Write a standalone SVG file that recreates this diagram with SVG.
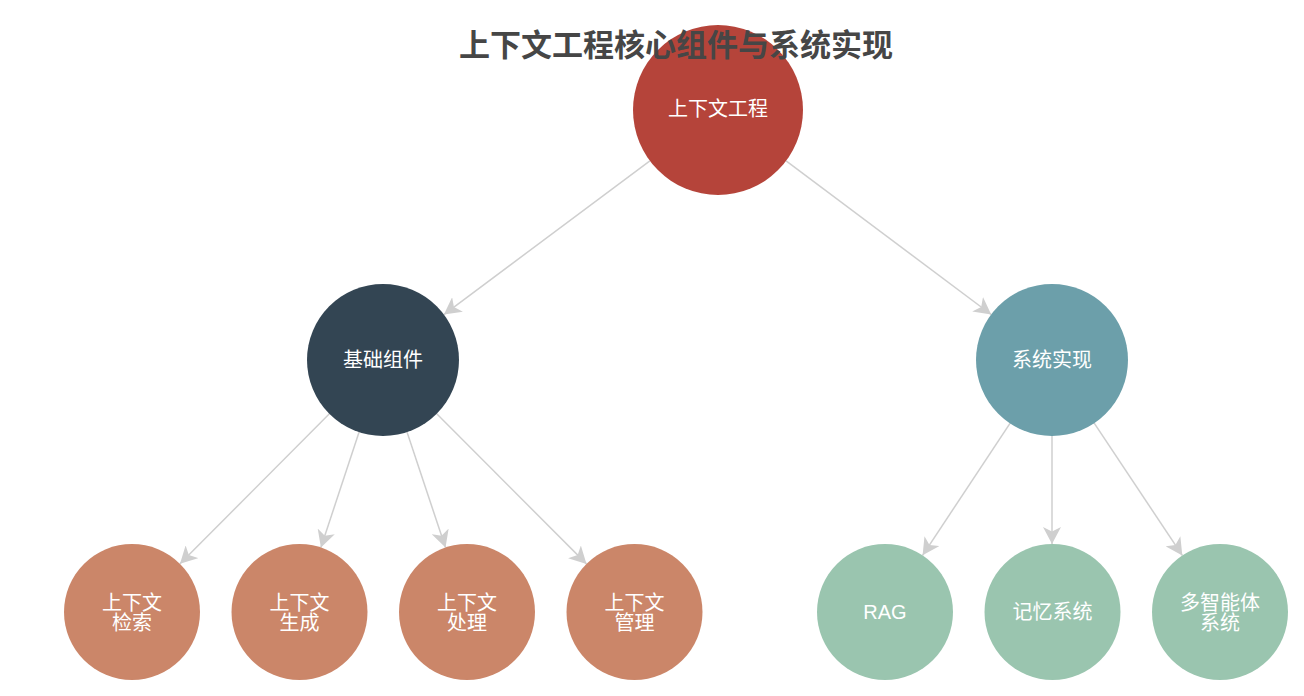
<svg xmlns="http://www.w3.org/2000/svg" width="1304" height="696" viewBox="0 0 1304 696">
<defs>
<style>
.edge{stroke:#cfcfcf;stroke-width:1.5;fill:none;marker-end:url(#arr)}
.lbl{font-family:"Liberation Sans","Noto Sans CJK SC",sans-serif;font-size:20px;fill:#ffffff;text-anchor:middle}
.title{font-family:"Noto Sans CJK SC","Liberation Sans",sans-serif;font-size:31px;font-weight:bold;fill:#464646;text-anchor:middle}
.root{fill:#b5443a}
.base{fill:#334553}
.sys{fill:#6c9faa}
.comp{fill:#cb8669}
.impl{fill:#9ac5af}
</style>
<marker id="arr" viewBox="0 -9 17 18" refX="17" refY="0" markerWidth="17" markerHeight="18" markerUnits="userSpaceOnUse" orient="auto">
<path d="M0,-9 L17,0 L0,9 L4.5,0 Z" fill="#cfcfcf"/>
</marker>
</defs>
<rect width="1304" height="696" fill="#ffffff"/>
<g id="connectors">
<line class="edge" x1="649.9" y1="160.8" x2="443.9" y2="314.6"/>
<line class="edge" x1="786.1" y1="160.9" x2="991.2" y2="314.5"/>
<line class="edge" x1="329.4" y1="413.8" x2="180.0" y2="563.8"/>
<line class="edge" x1="359.1" y1="432.1" x2="320.9" y2="547.5"/>
<line class="edge" x1="407.0" y1="432.1" x2="445.5" y2="547.5"/>
<line class="edge" x1="436.7" y1="413.8" x2="586.5" y2="563.9"/>
<line class="edge" x1="1010.0" y1="423.4" x2="922.6" y2="555.3"/>
<line class="edge" x1="1052" y1="436" x2="1052" y2="544"/>
<line class="edge" x1="1094.2" y1="423.2" x2="1182.3" y2="555.4"/>
</g>
<g id="node-root"><circle class="root" cx="718" cy="110" r="85"/><text class="lbl" x="718" y="116">上下文工程</text></g>
<g id="node-base"><circle class="base" cx="383" cy="360" r="76"/><text class="lbl" x="383" y="367">基础组件</text></g>
<g id="node-sys"><circle class="sys" cx="1052" cy="360" r="76"/><text class="lbl" x="1052" y="367">系统实现</text></g>
<g id="node-retrieval"><circle class="comp" cx="132" cy="612" r="68"/><text class="lbl" x="132" y="610">上下文</text><text class="lbl" x="132" y="630">检索</text></g>
<g id="node-generation"><circle class="comp" cx="299.5" cy="612" r="68"/><text class="lbl" x="299.5" y="610">上下文</text><text class="lbl" x="299.5" y="630">生成</text></g>
<g id="node-processing"><circle class="comp" cx="467" cy="612" r="68"/><text class="lbl" x="467" y="610">上下文</text><text class="lbl" x="467" y="630">处理</text></g>
<g id="node-management"><circle class="comp" cx="634.5" cy="612" r="68"/><text class="lbl" x="634.5" y="610">上下文</text><text class="lbl" x="634.5" y="630">管理</text></g>
<g id="node-rag"><circle class="impl" cx="885" cy="612" r="68"/><text class="lbl" x="885" y="619">RAG</text></g>
<g id="node-memory"><circle class="impl" cx="1052.5" cy="612" r="68"/><text class="lbl" x="1052.5" y="619">记忆系统</text></g>
<g id="node-multiagent"><circle class="impl" cx="1220" cy="612" r="68"/><text class="lbl" x="1220" y="610">多智能体</text><text class="lbl" x="1220" y="630">系统</text></g>
<text class="title" x="676" y="56">上下文工程核心组件与系统实现</text>
</svg>
